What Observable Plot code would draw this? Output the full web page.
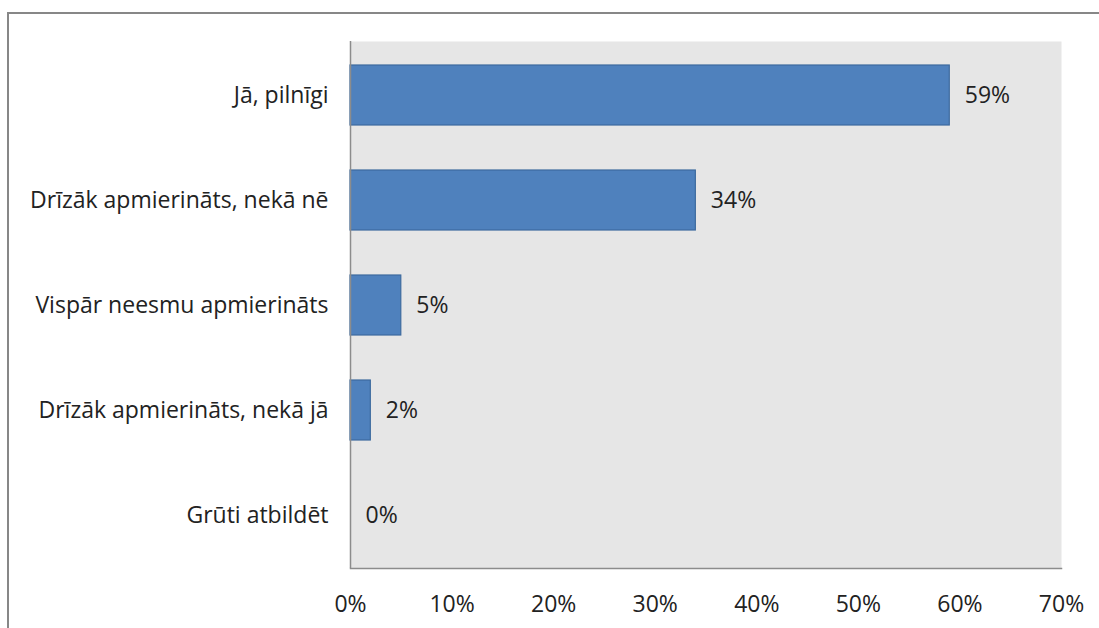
<!DOCTYPE html>
<html>
<head>
<meta charset="utf-8">
<script src="https://cdn.jsdelivr.net/npm/d3@7"></script>
<script src="https://cdn.jsdelivr.net/npm/@observablehq/plot@0.6"></script>
<style>
  html, body { margin: 0; padding: 0; background: #fff; }
  #wrap { position: relative; width: 1099px; height: 628px; overflow: hidden; }
  #frame { position: absolute; left: 7px; top: 12px; width: 1200px; height: 700px;
           border-top: 2px solid #878787; border-left: 2px solid #878787; box-sizing: border-box; }
  #chart { position: absolute; left: 0; top: 0; }
</style>
</head>
<body>
<div id="wrap"><div id="frame"></div><div id="chart"></div></div>
<script>
const categories = ["Jā, pilnīgi", "Drīzāk apmierināts, nekā nē", "Vispār neesmu apmierināts", "Drīzāk apmierināts, nekā jā", "Grūti atbildēt"];
const values = [59, 34, 5, 2, 0];
const xTicks = [0, 10, 20, 30, 40, 50, 60, 70];

const data = categories.map((c, i) => ({category: c, value: values[i]}));
const font = "'Open Sans', sans-serif";

const chart = Plot.plot({
  width: 1099,
  height: 628,
  marginLeft: 350,
  marginRight: 38,
  marginTop: 41,
  marginBottom: 60,
  style: {fontFamily: font, fontSize: "23px", color: "#222", background: "transparent"},
  x: {domain: [0, 70], ticks: xTicks, tickFormat: d => d + "%", label: null, tickSize: 0, tickPadding: 27},
  y: {domain: categories, label: null, tickSize: 0, tickPadding: 22, paddingInner: 0.43, paddingOuter: 0.215},
  marks: [
    Plot.frame({fill: "#e6e6e6", stroke: null}),
    Plot.barX(data, {x: "value", y: "category", fill: "#4f81bd", stroke: "#3d6a9e", strokeWidth: 1.2}),
    Plot.text(data, {x: "value", y: "category", text: d => d.value + "%", dx: 15, textAnchor: "start", fill: "#222", fontSize: 23}),
    Plot.ruleX([0], {stroke: "#8c8c8c", strokeWidth: 1.5}),
    Plot.frame({anchor: "bottom", stroke: "#8c8c8c", strokeWidth: 1.5})
  ]
});
document.getElementById("chart").appendChild(chart);
</script>
</body>
</html>
